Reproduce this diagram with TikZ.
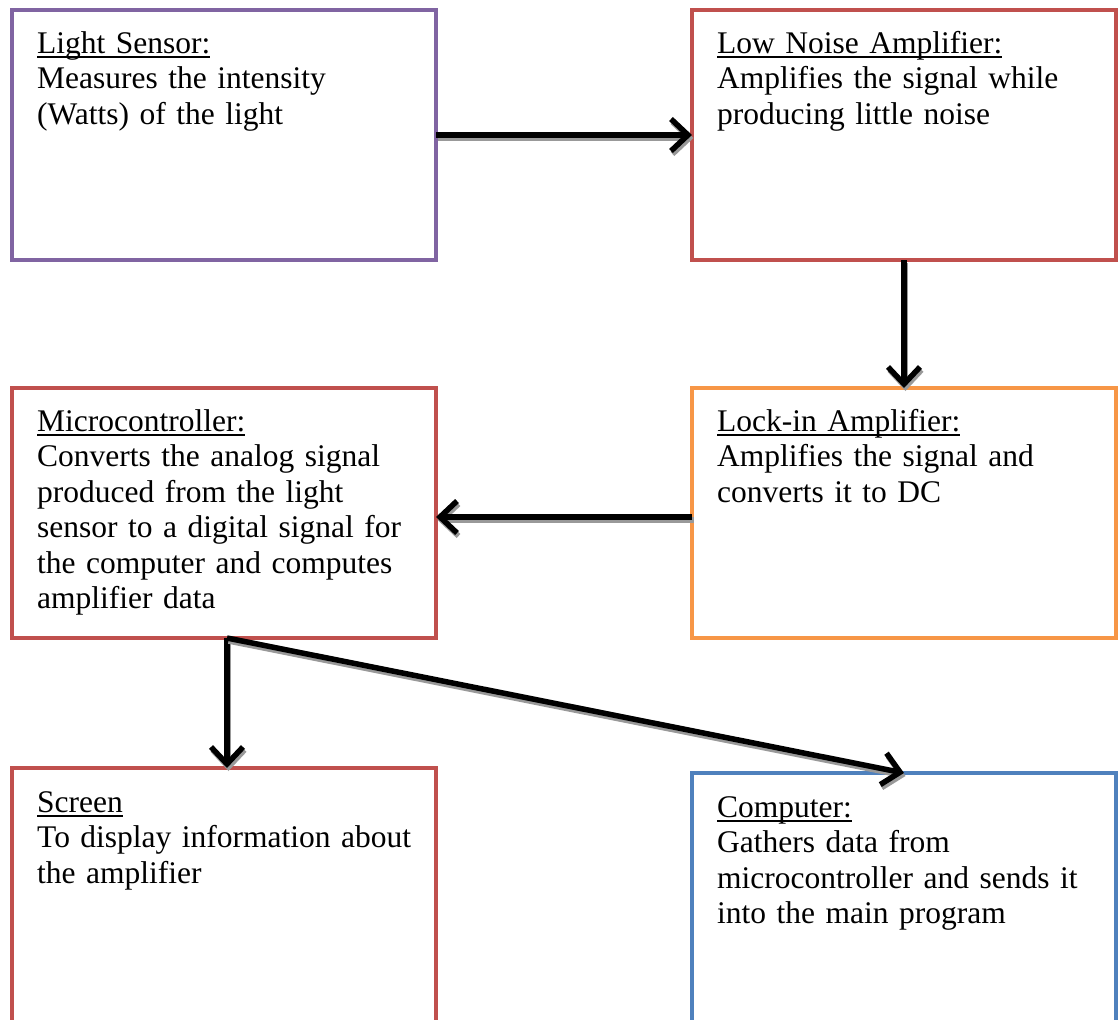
\documentclass[tikz,border=0pt]{standalone}
\usepackage{fontspec}
\setmainfont{Liberation Serif}
\usepackage{xcolor}
\usepackage{tikz}
\usetikzlibrary{positioning}
\usetikzlibrary{arrows.meta}

\definecolor{sensorpurple}{HTML}{8064A2}
\definecolor{boxred}{HTML}{C0504D}
\definecolor{lockorange}{HTML}{F79646}
\definecolor{compblue}{HTML}{4F81BD}

\newsavebox{\hdrbox}
\newcommand{\hdr}[1]{\sbox{\hdrbox}{#1}\rlap{\usebox{\hdrbox}}\rule[-4.8pt]{\wd\hdrbox}{1.6pt}}

\tikzset{
  block/.style={draw=#1, line width=4pt, minimum width=424pt, minimum height=250pt, outer sep=0pt, inner sep=0pt},
  blurb/.style={anchor=base west, text width=395pt, align=left, inner sep=0pt, font=\fontsize{31.5pt}{35.5pt}\selectfont},
  flow/.style={-{Straight Barb[length=17pt,width=32pt]}, line width=5.5pt},
  flowshade/.style={flow, draw=black!40, transform canvas={shift={(1.5pt,-3pt)}}}
}

\begin{document}
\begin{tikzpicture}[x=1pt,y=1pt]
\useasboundingbox (0,0) rectangle (1120,-1020);
\clip (0,0) rectangle (1120,-1020);

\node[block=sensorpurple] (sensor) at (224,-135) {};
\node[block=boxred, right=256pt of sensor] (lna) {};
\node[block=lockorange, below=128pt of lna] (lockin) {};
\node[block=boxred, left=256pt of lockin] (micro) {};
\node[block=boxred, below=130pt of micro, minimum height=280pt] (screen) {};
\node[block=compblue, below=135pt of lockin, minimum height=280pt] (computer) {};

\node[blurb] (sensortxt) at ([shift={(25pt,-43pt)}]sensor.north west)
  {\hdr{Light Sensor:}\\Measures the intensity\\(Watts) of the light};
\node[blurb] (lnatxt) at ([shift={(25pt,-43pt)}]lna.north west)
  {\hdr{Low Noise Amplifier:}\\Amplifies the signal while\\producing little noise};
\node[blurb] (lockintxt) at ([shift={(25pt,-43pt)}]lockin.north west)
  {\hdr{Lock-in Amplifier:}\\Amplifies the signal and\\converts it to DC};
\node[blurb] (microtxt) at ([shift={(25pt,-43pt)}]micro.north west)
  {\hdr{Microcontroller:}\\Converts the analog signal\\produced from the light\\sensor to a digital signal for\\the computer and computes\\amplifier data};
\node[blurb] (screentxt) at ([shift={(25pt,-44pt)}]screen.north west)
  {\hdr{Screen}\\To display information about\\the amplifier};
\node[blurb] (computertxt) at ([shift={(25pt,-44pt)}]computer.north west)
  {\hdr{Computer:}\\Gathers data from\\microcontroller and sends it\\into the main program};

% connector ends
\coordinate (sensorout) at (sensor.east);
\coordinate (lnain) at (sensor.east -| lna.west);
\coordinate (lockout) at ([yshift=-4pt]lockin.west);
\coordinate (microin) at ([yshift=-4pt]lockin.west -| micro.east);
\coordinate (microout) at ([xshift=3pt]micro.south);
\coordinate (screenin) at ([xshift=3pt]screen.north);

% connectors, shadow first
\foreach \from/\to in {sensorout/lnain, lna.south/lockin.north, lockout/microin, microout/screenin, microout/computer.north}
{
  \draw[flowshade] (\from) -- (\to);
  \draw[flow] (\from) -- (\to);
}
\end{tikzpicture}
\end{document}
